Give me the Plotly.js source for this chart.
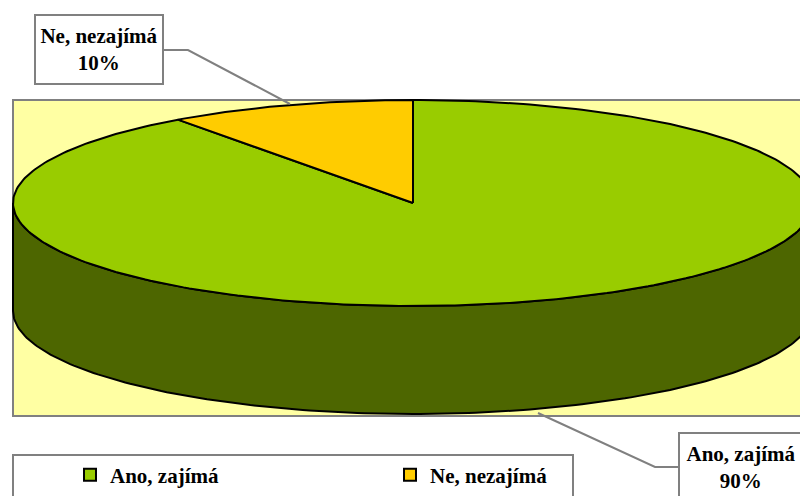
<!DOCTYPE html>
<html>
<head>
<meta charset="utf-8">
<script src="https://cdn.plot.ly/plotly-3.0.1.min.js"></script>
<style>html,body{margin:0;padding:0;background:#fff;}#chart{width:800px;height:496px;}</style>
</head>
<body>
<div id="chart"></div>
<script>
// ---- data ----
const categories = ['Ano, zajímá', 'Ne, nezajímá'];
const values = [90, 10];
const topColors = ['#99CC00', '#FFCC00'];
const sideColors = ['#4D6600', '#806600'];

// ---- 3D pie geometry (pixel space of the figure) ----
const CX = 413, CY = 203, RX = 400, RY = 103, DEPTH = 108;
const FONT = {family: 'Liberation Serif', size: 21, color: '#000', weight: 'bold'};

function pt(deg, dy) {
  const r = deg * Math.PI / 180;
  return [CX + RX * Math.sin(r), CY - RY * Math.cos(r) + dy];
}
function arc(a0, a1, dy) {
  const pts = [];
  const n = Math.max(2, Math.ceil(Math.abs(a1 - a0)));
  for (let k = 0; k <= n; k++) pts.push(pt(a0 + (a1 - a0) * k / n, dy));
  return pts;
}

const total = values.reduce((a, b) => a + b, 0);
const slices = [];
let cum = 0;
values.forEach((v, i) => {
  const a0 = 360 * cum / total;
  cum += v;
  const a1 = 360 * cum / total;
  slices.push({a0, a1, i});
});

const traces = [];
// side walls (front half only: 90..270 deg clockwise from top)
slices.forEach(s => {
  const lo = Math.max(s.a0, 90), hi = Math.min(s.a1, 270);
  if (lo < hi) {
    const pts = arc(lo, hi, 0).concat(arc(hi, lo, DEPTH));
    pts.push(pts[0]);
    traces.push({
      type: 'scatter', mode: 'lines', fill: 'toself',
      x: pts.map(p => p[0]), y: pts.map(p => p[1]),
      fillcolor: sideColors[s.i], line: {color: '#000', width: 2},
      hoverinfo: 'skip', showlegend: false
    });
  }
});
// top faces
slices.forEach(s => {
  const pts = [[CX, CY]].concat(arc(s.a0, s.a1, 0));
  pts.push([CX, CY]);
  traces.push({
    type: 'scatter', mode: 'lines', fill: 'toself',
    x: pts.map(p => p[0]), y: pts.map(p => p[1]),
    fillcolor: topColors[s.i], line: {color: '#000', width: 2},
    name: categories[s.i], hoverinfo: 'name', showlegend: false
  });
});
// legend entries
categories.forEach((c, i) => {
  traces.push({
    type: 'scatter', mode: 'markers', x: [null], y: [null], name: c,
    marker: {symbol: 'square', size: 12, color: topColors[i], line: {color: '#000', width: 2}},
    showlegend: true
  });
});

const pct = values.map(v => Math.round(100 * v / total) + '%');

const layout = {
  width: 800, height: 496,
  margin: {l: 0, r: 0, t: 0, b: 0},
  paper_bgcolor: '#fff', plot_bgcolor: 'rgba(0,0,0,0)',
  xaxis: {range: [0, 800], visible: false, fixedrange: true},
  yaxis: {range: [496, 0], visible: false, fixedrange: true},
  font: FONT,
  showlegend: true,
  legend: {
    orientation: 'h', x: 70 / 800, xanchor: 'left', y: 1 - 475 / 496, yanchor: 'middle',
    entrywidth: 275, entrywidthmode: 'pixels', itemwidth: 30,
    bgcolor: 'rgba(0,0,0,0)', borderwidth: 0, font: FONT, itemclick: false
  },
  shapes: [
    {type: 'rect', layer: 'below', xref: 'x', yref: 'y', x0: 13, x1: 840, y0: 100, y1: 416,
     fillcolor: '#FFFFA3', line: {color: '#808080', width: 2}},
    {type: 'rect', layer: 'below', xref: 'x', yref: 'y', x0: 13, x1: 573, y0: 455, y1: 520,
     fillcolor: '#fff', line: {color: '#808080', width: 2}},
    {type: 'path', xref: 'x', yref: 'y', path: 'M164,50 L188,50 L290,104', line: {color: '#808080', width: 2}},
    {type: 'path', xref: 'x', yref: 'y', path: 'M538,413 L655,467 L679,467', line: {color: '#808080', width: 2}}
  ],
  annotations: [
    {xref: 'x', yref: 'y', x: 99, y: 49.5, showarrow: false,
     text: categories[1] + '<br>' + pct[1], align: 'center', font: FONT,
     bgcolor: '#fff', bordercolor: '#808080', borderwidth: 2, borderpad: 2, width: 122, height: 63},
    {xref: 'x', yref: 'y', x: 741, y: 467, showarrow: false,
     text: categories[0] + '<br>' + pct[0], align: 'center', font: FONT,
     bgcolor: '#fff', bordercolor: '#808080', borderwidth: 2, borderpad: 2, width: 118, height: 63}
  ]
};

Plotly.newPlot('chart', traces, layout, {staticPlot: true, displayModeBar: false});
</script>
</body>
</html>
